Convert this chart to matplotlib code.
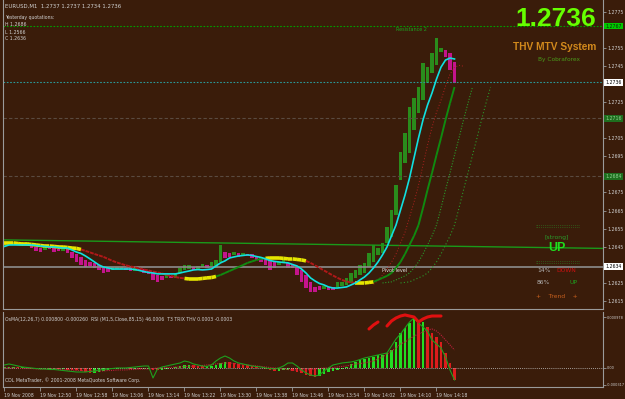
#!/usr/bin/env python

import matplotlib
matplotlib.use('Agg')
import matplotlib.pyplot as plt
import matplotlib.transforms as mtransforms
import numpy as np

FIG_W, FIG_H = 625, 399
BG          = '#3a1c0a'
AXIS_GRAY   = '#9a9a9a'
LABEL_COLOR = '#d0d0d0'
SMALL_FONT  = 3.3

# ---------------------------------------------------------------- data
# M1 bars, first bar 12:42, Heiken-Ashi style open/close
ha_open = [1.26454, 1.26460, 1.26465, 1.26471, 1.26460, 1.26465, 1.26465, 1.26449, 1.26443, 1.26432,
           1.26449, 1.26443, 1.26438, 1.26427, 1.26438, 1.26421, 1.26410, 1.26394, 1.26377, 1.26366,
           1.26361, 1.26349, 1.26338, 1.26333, 1.26322, 1.26327, 1.26327, 1.26333, 1.26333, 1.26316,
           1.26327, 1.26327, 1.26316, 1.26311, 1.26294, 1.26289, 1.26278, 1.26289, 1.26278, 1.26305,
           1.26322, 1.26327, 1.26338, 1.26327, 1.26338, 1.26349, 1.26344, 1.26333, 1.26366, 1.26421,
           1.26416, 1.26405, 1.26416, 1.26399, 1.26410, 1.26410, 1.26399, 1.26394, 1.26388, 1.26377,
           1.26366, 1.26349, 1.26366, 1.26361, 1.26355, 1.26338, 1.26322, 1.26294, 1.26256, 1.26228,
           1.26233, 1.26217, 1.26228, 1.26228, 1.26228, 1.26233, 1.26239, 1.26250, 1.26278, 1.26294,
           1.26305, 1.26338, 1.26366, 1.26405, 1.26416, 1.26471, 1.26504, 1.26626, 1.26819, 1.26913,
           1.26968, 1.27095, 1.27189, 1.27261, 1.27355, 1.27410, 1.27454, 1.27526, 1.27537, 1.27521,
           1.27471]
ha_close = [1.26465, 1.26471, 1.26477, 1.26460, 1.26471, 1.26477, 1.26443, 1.26427, 1.26421, 1.26454,
            1.26438, 1.26421, 1.26427, 1.26438, 1.26416, 1.26388, 1.26366, 1.26349, 1.26338, 1.26344,
            1.26333, 1.26322, 1.26305, 1.26311, 1.26338, 1.26338, 1.26338, 1.26322, 1.26316, 1.26333,
            1.26316, 1.26305, 1.26300, 1.26267, 1.26256, 1.26267, 1.26294, 1.26278, 1.26300, 1.26333,
            1.26349, 1.26349, 1.26322, 1.26344, 1.26355, 1.26333, 1.26366, 1.26377, 1.26460, 1.26388,
            1.26394, 1.26421, 1.26394, 1.26416, 1.26399, 1.26388, 1.26377, 1.26366, 1.26349, 1.26322,
            1.26333, 1.26366, 1.26388, 1.26333, 1.26333, 1.26294, 1.26256, 1.26222, 1.26200, 1.26200,
            1.26211, 1.26233, 1.26211, 1.26211, 1.26256, 1.26256, 1.26278, 1.26305, 1.26322, 1.26349,
            1.26361, 1.26416, 1.26460, 1.26443, 1.26471, 1.26559, 1.26653, 1.26791, 1.26974, 1.27079,
            1.27222, 1.27272, 1.27333, 1.27465, 1.27443, 1.27521, 1.27604, 1.27548, 1.27499, 1.27427,
            1.27355]

# fast smoothed line (cyan)
fast_ma = [1.26452, 1.26460, 1.26460, 1.26460, 1.26460, 1.26460, 1.26460, 1.26457, 1.26454, 1.26452,
           1.26449, 1.26449, 1.26446, 1.26443, 1.26443, 1.26432, 1.26421, 1.26413, 1.26399, 1.26383,
           1.26366, 1.26349, 1.26338, 1.26333, 1.26327, 1.26327, 1.26327, 1.26327, 1.26327, 1.26324,
           1.26319, 1.26313, 1.26308, 1.26305, 1.26300, 1.26300, 1.26300, 1.26300, 1.26300, 1.26305,
           1.26311, 1.26316, 1.26322, 1.26324, 1.26322, 1.26324, 1.26327, 1.26344, 1.26361, 1.26372,
           1.26388, 1.26394, 1.26399, 1.26402, 1.26405, 1.26402, 1.26396, 1.26391, 1.26383, 1.26374,
           1.26369, 1.26366, 1.26363, 1.26361, 1.26352, 1.26344, 1.26327, 1.26305, 1.26278, 1.26261,
           1.26247, 1.26239, 1.26228, 1.26222, 1.26222, 1.26225, 1.26228, 1.26239, 1.26250, 1.26267,
           1.26283, 1.26305, 1.26333, 1.26366, 1.26405, 1.26449, 1.26510, 1.26570, 1.26653, 1.26736,
           1.26830, 1.26941, 1.27051, 1.27151, 1.27233, 1.27300, 1.27377, 1.27443, 1.27482, 1.27493,
           1.27488]

# slow T3 line (yellow flat / red falling / green rising)
slow_ma = [1.26471, 1.26471, 1.26471, 1.26468, 1.26465, 1.26465, 1.26463, 1.26460, 1.26457, 1.26454,
           1.26454, 1.26452, 1.26449, 1.26449, 1.26446, 1.26443, 1.26441, 1.26435, 1.26427, 1.26419,
           1.26410, 1.26402, 1.26394, 1.26383, 1.26372, 1.26363, 1.26355, 1.26347, 1.26341, 1.26336,
           1.26330, 1.26324, 1.26319, 1.26313, 1.26308, 1.26303, 1.26294, 1.26289, 1.26283, 1.26278,
           1.26275, 1.26272, 1.26272, 1.26272, 1.26275, 1.26278, 1.26280, 1.26286, 1.26294, 1.26305,
           1.26316, 1.26327, 1.26338, 1.26349, 1.26361, 1.26369, 1.26377, 1.26383, 1.26386, 1.26388,
           1.26388, 1.26388, 1.26386, 1.26383, 1.26383, 1.26380, 1.26377, 1.26372, 1.26361, 1.26347,
           1.26333, 1.26319, 1.26305, 1.26291, 1.26278, 1.26267, 1.26258, 1.26253, 1.26250, 1.26250,
           1.26250, 1.26253, 1.26256, 1.26267, 1.26278, 1.26289, 1.26305, 1.26333, 1.26366, 1.26410,
           1.26460, 1.26510, 1.26570, 1.26664, 1.26764, 1.26858, 1.26957, 1.27051, 1.27151, 1.27244,
           1.27333]

# price levels
resistance_2  = 1.2767
current_price = 1.2736
level_upper   = 1.2716
level_lower   = 1.2684
pivot_level   = 1.2634
trend_x       = [0, 133]
trend_y       = [1.26488, 1.26441]

price_ticks = [1.2775, 1.2755, 1.2745, 1.2725, 1.2705, 1.2695,
               1.2675, 1.2665, 1.2655, 1.2645, 1.2625, 1.2615]

time_labels = ['19 Nov 2008', '19 Nov 12:50', '19 Nov 12:58', '19 Nov 13:06', '19 Nov 13:14',
               '19 Nov 13:22', '19 Nov 13:30', '19 Nov 13:38', '19 Nov 13:46', '19 Nov 13:54',
               '19 Nov 14:02', '19 Nov 14:10', '19 Nov 14:18']
time_ticks  = [0, 8, 16, 24, 32, 40, 48, 56, 64, 72, 80, 88, 96]

# lower pane, values in 1e-6
osma = [19, 19, 19, 10, 10, 0, -10, -19, -19, -19, -10, -10, -19, -19, -29, -38, -48, -58,
        -77, -96, -96, -77, -58, -38, -19, -10, 0, 0, -10, -10, -19, -19, -19, -38, -48, -38,
        -19, 0, 19, 38, 58, 58, 48, 38, 29, 29, 38, 58, 96, 115, 106, 96, 77, 58, 48, 38,
        19, 0, -19, -38, -58, -58, -38, -38, -58, -77, -96, -134, -154, -173, -154,
        -115, -77, -58, -38, -19, 10, 77, 115, 154, 173, 192, 211, 250, 250,
        288, 346, 499, 672, 768, 864, 960, 864, 883, 787, 672, 595, 499, 288, 96, -230]
osma_signal = [58, 77, 58, 38, 19, 10, 0, -10, -19, -19, -29, -29, -38, -48, -58, -67, -77, -77,
               -77, -67, -58, -38, -29, -19, -10, 0, 0, 0, 10, 19, 29, 38, 38,
               -192, -19, 19, 38, 58, 77, 96, 134, 115, 77, 58, 38, 29, 58, 134,
               192, 230, 192, 134, 96, 77, 58, 38, 29, 19, 0, -10, -19, 0, 38,
               96, 96, 38, -38, -96, -134, -154, -134, -58, 0, 58, 77, 96, 106, 115,
               134, 163, 192, 211, 230, 250, 269, 288, 422, 557, 653, 768, 883, 960, 864,
               787, 710, 538, 461, 384, 211, -38, -230]
osma_slow = [0, 0, 0, 0, -10, -10, -10, -19, -19, -19, -19,
             -19, -29, -29, -38, -38, -48, -48, -58, -58, -58, -58, -58,
             -48, -48, -38, -38, -38, -29, -29, -19, -19, -19, -10,
             0, 0, 10, 10, 19, 19, 29, 29, 38, 38, 48,
             58, 67, 77, 86, 96, 96, 86, 77, 67, 58, 48,
             38, 29, 19, 10, 0, -10, -19, -29, -38, -38, -38,
             -38, -29, -19, -10, 0, 0, 10, 19, 29, 38, 58,
             77, 86, 96, 115, 134, 173, 211, 269, 326, 384, 461,
             499, 557, 614, 653, 691, 730, 749, 710, 634, 538, 442, 346]
rsi_overbought = [np.nan] * 81 + [749, 826, 883, np.nan, 806, 902, 960, 998, 1018, 998, 979,
                                  883, 941, 979, 998, 998, 998] + [np.nan] * 3
osma_ticks  = [978, 0, -317]
osma_labels = ['0.000978', '0.00', '-0.000317']


def fx(px):
    return px / FIG_W


def fy(py):
    return 1 - py / FIG_H


def style_axes(ax):
    ax.set_facecolor(BG)
    for spine in ax.spines.values():
        spine.set_color(AXIS_GRAY)
        spine.set_linewidth(0.8)
    ax.spines['top'].set_visible(False)
    ax.yaxis.tick_right()
    ax.tick_params(axis='y', colors=AXIS_GRAY, labelcolor=LABEL_COLOR, length=2,
                   width=0.6, labelsize=SMALL_FONT, pad=1.5)
    ax.set_xlim(-0.333, 133.0)


fig = plt.figure(figsize=(FIG_W / 100, FIG_H / 100), dpi=100, facecolor=BG)
plt.rcParams['font.family'] = ['DejaVu Sans']

ax  = fig.add_axes([fx(3), fy(309), fx(603) - fx(3), fy(0) - fy(309)])
ind = fig.add_axes([fx(3), fy(387), fx(603) - fx(3), fy(312) - fy(387)])
style_axes(ax)
style_axes(ind)

bars = np.arange(len(ha_open))
opens, closes = np.array(ha_open), np.array(ha_close)

# ---------------------------------------------------------------- main pane
ax.axhline(resistance_2,  color='#00a000', lw=0.8, ls=(0, (1.5, 1.5)))
ax.axhline(current_price, color='#2a9a9a', lw=0.8, ls=(0, (1.5, 1.5)))
ax.axhline(level_upper,   color='#5a4a40', lw=0.8, ls=(0, (3, 2)))
ax.axhline(level_lower,   color='#5a4a40', lw=0.8, ls=(0, (3, 2)))
ax.axhline(pivot_level,   color='#8c8c8c', lw=1.2)
ax.plot(trend_x, trend_y, color='#1a9a1a', lw=1.0)

up = closes >= opens
ax.bar(bars, closes - opens, bottom=opens, width=0.7, linewidth=0,
       color=np.where(up, '#2a8c1c', '#c4148c'))

# projected dotted copies of the slow line at the right end
tail = bars >= 80
ax.plot(bars[tail] + 4, np.array(slow_ma)[tail], color='#2a9a2a', lw=0.8, ls=(0, (1, 1.5)))
ax.plot(bars[tail] + 8, np.array(slow_ma)[tail], color='#2a9a2a', lw=0.8, ls=(0, (1, 2)))
ax.plot(bars[tail] + 2, np.array(fast_ma)[tail] - 0.0004, color='#b02020', lw=0.7, ls=(0, (1, 2)))

slow = np.array(slow_ma)
for i in range(1, len(slow)):
    slope = slow[i] - slow[max(i - 3, 0)]
    if slope > 0.00013:
        color, lw, ls = '#108a10', 1.4, '-'
    elif slope < -0.00013:
        color, lw, ls = '#b01818', 1.4, (0, (2, 1))
    else:
        color, lw, ls = '#e6e600', 2.6, '-'
    ax.plot([i - 1, i], [slow[i - 1], slow[i]], color=color, lw=lw, ls=ls,
            solid_capstyle='butt')

ax.plot(bars, fast_ma, color='#10e0e0', lw=1.2)

ax.set_ylim(1.26106, 1.27814)
ax.set_yticks(price_ticks)
ax.set_yticklabels(['%.4f' % p for p in price_ticks])
ax.set_xticks([])

mixed = mtransforms.blended_transform_factory(ax.transAxes, ax.transData)
for level, face, text in [(resistance_2, '#00c800', '#0a2a0a'), (current_price, '#ffffff', '#000000'),
                          (level_upper, '#1e6e1e', '#90d090'), (level_lower, '#1e6e1e', '#90d090'),
                          (pivot_level, '#ffffff', '#000000')]:
    ax.text(1.004, level, '%.4f' % level, transform=mixed, fontsize=SMALL_FONT, color=text,
            va='center', ha='left', bbox=dict(boxstyle='square,pad=0.2', fc=face, ec='none'))

ax.text(87, resistance_2 - 0.00008, 'Resistance 2', fontsize=3.5, color='#1ea01e', va='top')
ax.text(84, pivot_level - 0.00008, 'Pivot level', fontsize=3.5, color='#e0e0e0', va='top')

# ---------------------------------------------------------------- lower pane
hist = np.array(osma)
rising = np.r_[True, np.diff(hist) >= 0]
ind.axhline(0, color='#c8c8c8', lw=0.6, ls=(0, (1, 1.5)))
ind.bar(bars, hist, width=0.45, linewidth=0, color=np.where(rising, '#22dd22', '#dd1c1c'))
ind.plot(bars, osma_slow, color='#c01c3c', lw=0.8, ls=(0, (1, 1)))
ind.plot(bars, osma_signal, color='#1ea01e', lw=0.8)
ind.plot(bars, rsi_overbought, color='#e01010', lw=2.2, solid_capstyle='round')

ind.set_ylim(-365, 1075)
ind.set_yticks(osma_ticks)
ind.set_yticklabels(osma_labels)
ind.tick_params(axis='y', labelsize=2.5, pad=0.8)
ind.set_xticks(time_ticks)
ind.set_xticklabels(time_labels, ha='left')
ind.tick_params(axis='x', colors=AXIS_GRAY, labelcolor=LABEL_COLOR, length=3, width=0.6,
                labelsize=SMALL_FONT, pad=1)

ind.text(0.004, 0.9, 'OsMA(12,26,7) 0.000800 -0.000260  RSI (M1,5,Close,85,15) 46.0006  '
         'T3 TRIX THV 0.0003 -0.0003', transform=ind.transAxes, fontsize=SMALL_FONT,
         color=LABEL_COLOR, va='center')
ind.text(0.004, 0.05, 'CDL MetaTrader, \u00a9 2001-2008 MetaQuotes Software Corp.',
         transform=ind.transAxes, fontsize=SMALL_FONT, color=LABEL_COLOR, va='bottom')

# ---------------------------------------------------------------- overlay texts
fig.text(fx(5), fy(6), 'EURUSD,M1  1.2737 1.2737 1.2734 1.2736', fontsize=3.9,
         color=LABEL_COLOR, va='center')
for y, line in [(18, 'Yesterday quotations:'), (25, 'H 1.2686'), (32, 'L 1.2566'), (39, 'C 1.2636')]:
    fig.text(fx(5), fy(y), line, fontsize=SMALL_FONT, color=LABEL_COLOR, va='center')

fig.text(fx(556), fy(19), '1.2736', fontsize=19, fontweight='bold', color='#66ff00',
         family='Liberation Sans', ha='center', va='center')
fig.text(fx(555), fy(47.5), 'THV MTV System', fontsize=7.3, fontweight='bold', color='#d2891c',
         family='Liberation Sans', ha='center', va='center')
fig.text(fx(559), fy(60), 'By Cobraforex', fontsize=4.2, color='#4a9a1a', ha='center', va='center')

fig.text(fx(558), fy(226), ':' * 24, fontsize=4, color='#2a9a2a', ha='center', va='center')
fig.text(fx(557), fy(237), '[strong]', fontsize=4.4, color='#2a9a2a', ha='center', va='center')
fig.text(fx(557), fy(248), 'UP', fontsize=9, fontweight='bold', color='#1ee01e',
         family='Liberation Sans', ha='center', va='center')
fig.text(fx(558), fy(262), ':' * 24, fontsize=4, color='#2a9a2a', ha='center', va='center')
fig.text(fx(537), fy(271), '14%', fontsize=4.3, color='#b4b4b4', va='center')
fig.text(fx(556), fy(271), 'DOWN', fontsize=4.3, color='#d01010', va='center')
fig.text(fx(537), fy(283), '86%', fontsize=4.3, color='#b4b4b4', va='center')
fig.text(fx(570), fy(283), 'UP', fontsize=4.3, color='#1ea01e', va='center')
fig.text(fx(557), fy(297), '+    Trend    +', fontsize=4.3, color='#c8601e', ha='center', va='center')

fig.savefig('out.png', dpi=100, facecolor=BG)
plt.close(fig)
